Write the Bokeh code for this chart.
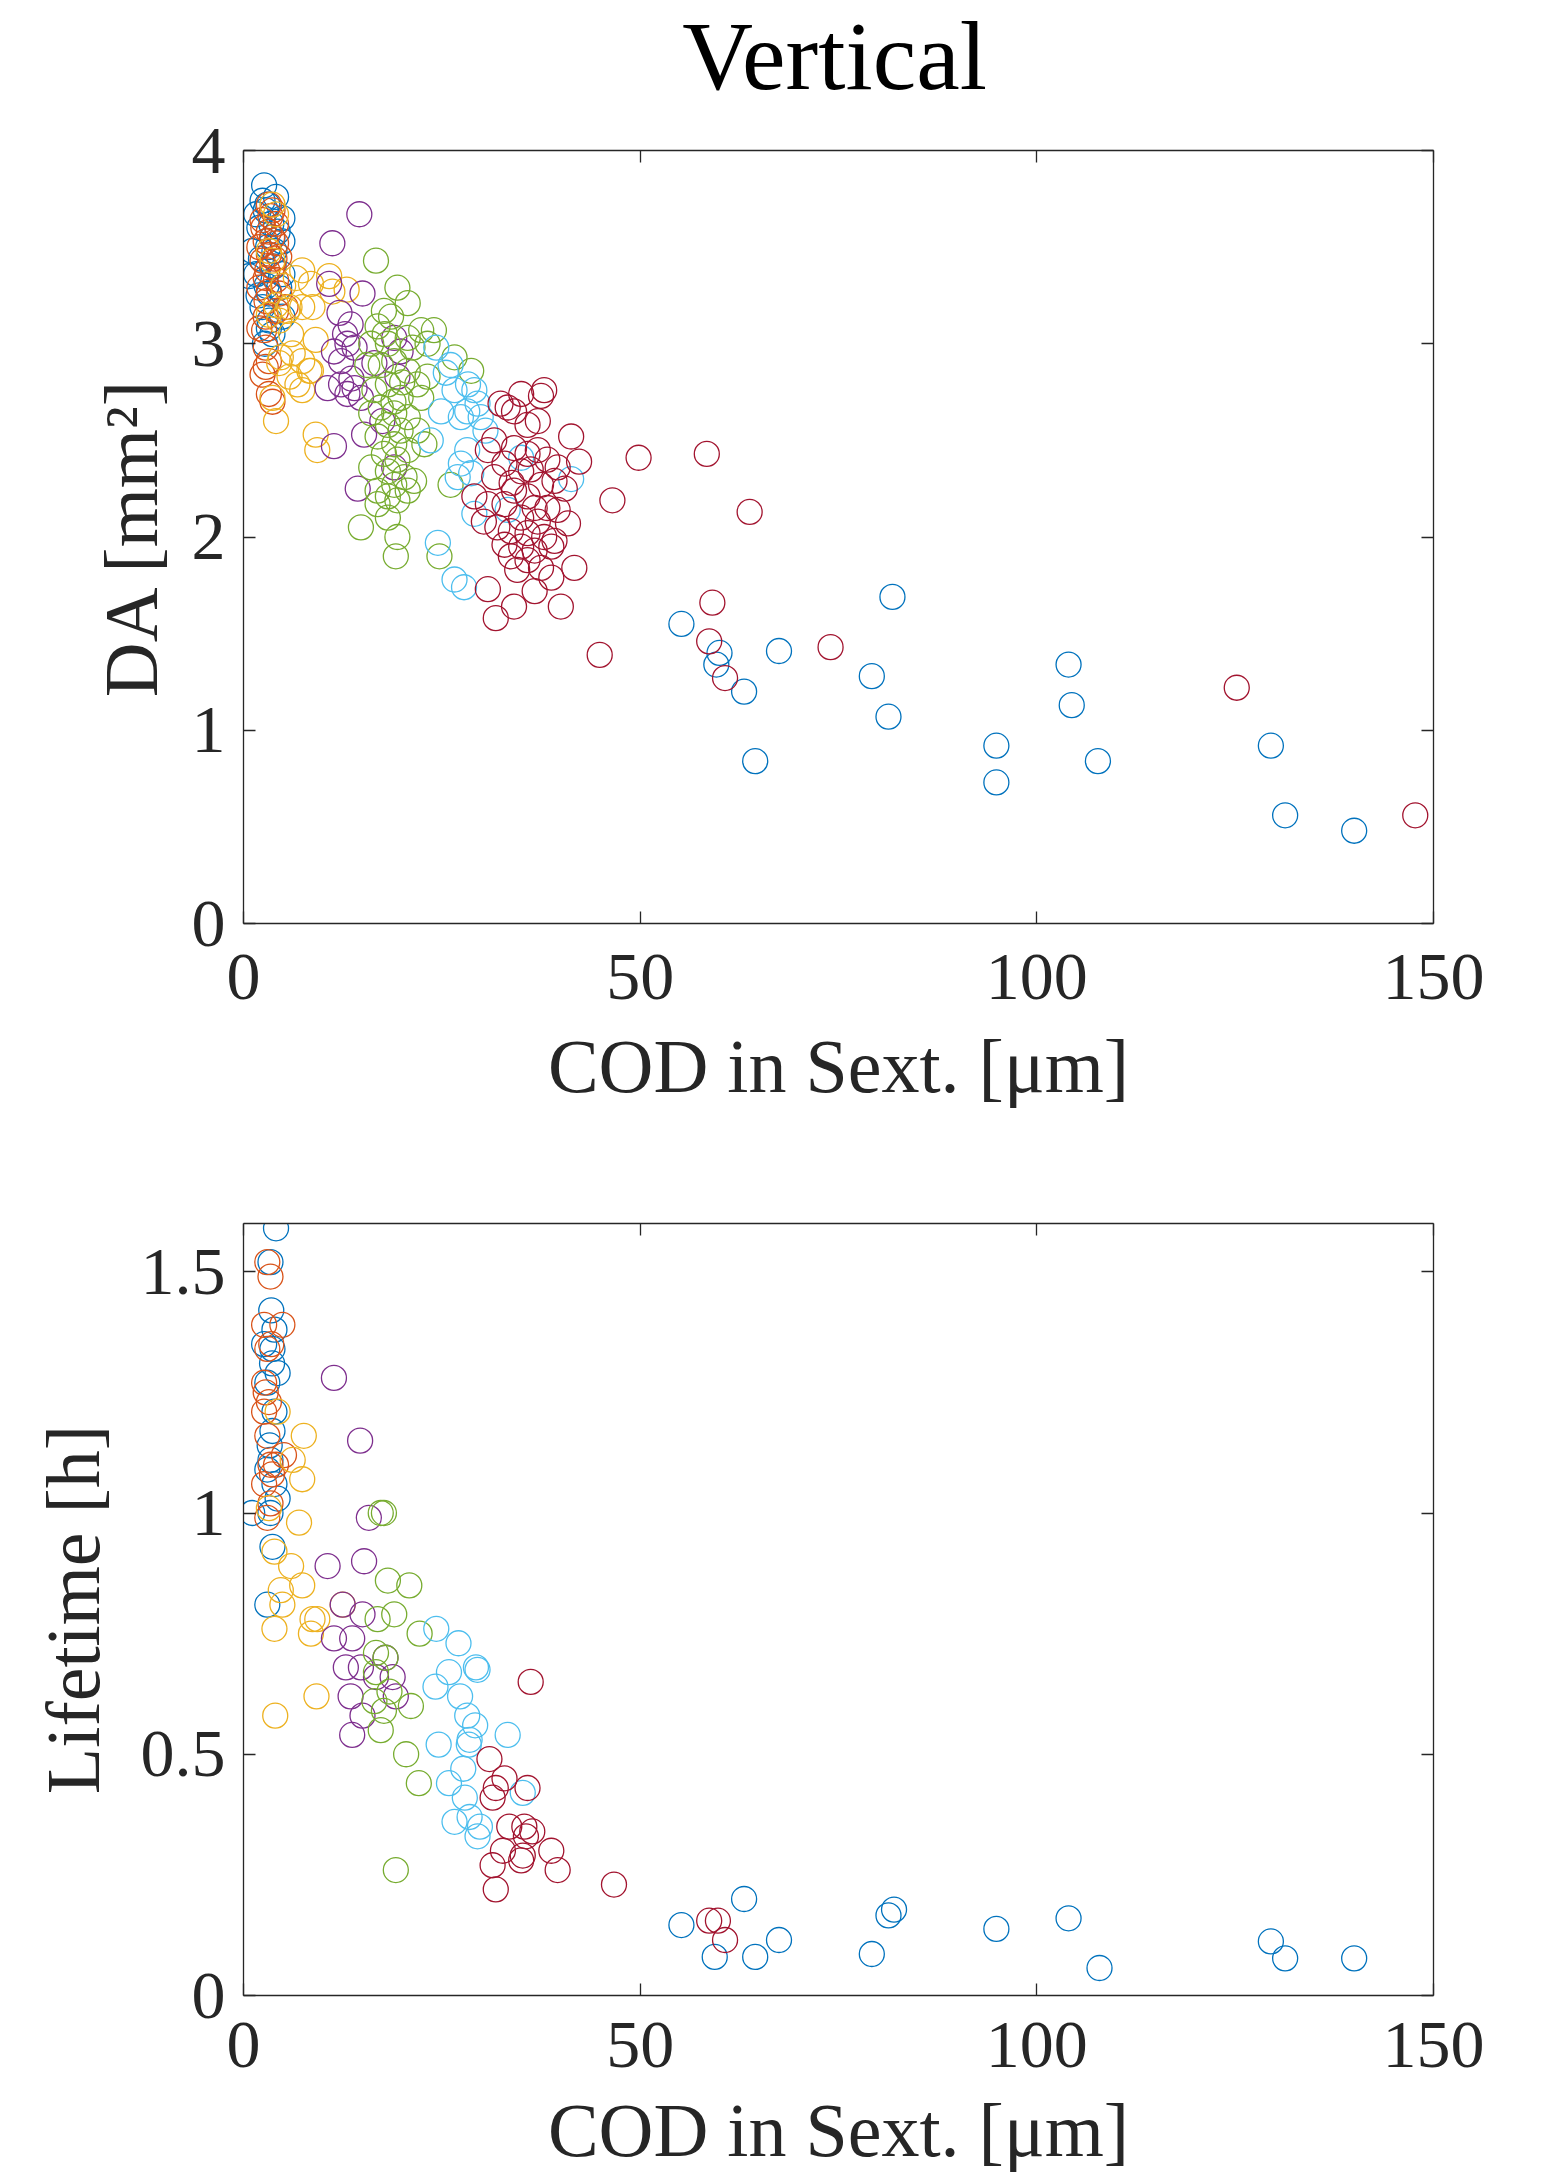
from bokeh.plotting import figure
from bokeh.layouts import column
from bokeh.models import Range1d, LinearAxis, FixedTicker, CustomJSTickFormatter
from bokeh.core.properties import value
from bokeh.embed import file_html
from bokeh.resources import INLINE

# ---------------- data: top panel (COD [um], DA [mm^2]) ----------------
top_blue_cod = [2.6, 2.4, 4.1, 1.6, 4.9, 2.0, 4.9, 1.1, 1.6, 0.7, 4.9, 4.5, 2.4, 4.9, 3.2, 3.65, 3.2, 2.8, 3.65, 3.0,
                3.5, 2.2, 3.8, 2.9, 3.3, 2.7, 3.9, 1.9, 4.3, 3.1,
                55.2, 59.6, 60.0, 63.1, 64.5, 67.5, 79.2, 81.3, 81.8, 94.9, 94.9, 104.0, 104.4, 107.7, 129.5, 131.3, 140.0]
top_blue_da = [3.82, 3.74, 3.76, 3.67, 3.65, 3.60, 3.53, 3.48, 3.36, 3.35, 3.36, 3.29, 3.19, 3.14, 3.08, 3.05, 3.26, 3.69, 3.55, 3.72,
               3.62, 3.44, 3.40, 3.30, 3.12, 3.00, 3.48, 3.25, 3.58, 3.50,
               1.55, 1.34, 1.40, 1.20, 0.84, 1.41, 1.28, 1.07, 1.69, 0.92, 0.73, 1.34, 1.13, 0.84, 0.92, 0.56, 0.48]

top_orange_cod = [3.2, 3.65, 2.4, 4.1, 3.2, 2.8, 4.1, 2.0, 3.2, 4.5, 2.4, 3.65, 2.8, 4.1, 2.0, 3.2, 4.5, 5.3, 4.1, 2.8,
                  2.0, 2.8, 3.2, 2.4, 3.2, 3.65, 2.6, 2.8, 3.0, 3.6, 2.5, 3.9, 3.4, 2.9]
top_orange_da = [3.72, 3.69, 3.64, 3.62, 3.58, 3.53, 3.52, 3.50, 3.46, 3.45, 3.43, 3.40, 3.34, 3.33, 3.29, 3.27, 3.26, 3.19, 3.17, 3.14,
                 3.08, 2.98, 2.91, 2.84, 2.74, 2.70, 3.07, 2.88, 3.38, 3.55, 3.60, 3.44, 3.66, 3.22]

top_yellow_cod = [3.65, 4.1, 3.2, 3.65, 4.1, 3.2, 7.4, 6.6, 10.8, 11.2, 8.7, 7.4, 5.8, 4.5, 9.1, 6.2, 7.4, 8.3, 4.5, 5.8,
                  7.4, 3.65, 4.1, 9.1, 9.3, 8.5, 5.5, 4.7, 8.5, 6.8, 13.0, 6.0, 5.0]
top_yellow_da = [3.72, 3.67, 3.48, 3.43, 3.20, 3.15, 3.38, 3.34, 3.35, 3.27, 3.19, 3.19, 3.19, 3.12, 3.02, 2.95, 2.91, 2.86, 2.90, 2.83,
                 2.76, 2.72, 2.60, 2.53, 2.45, 3.31, 3.17, 2.93, 2.86, 2.79, 3.28, 3.05, 3.30]

top_purple_cod = [14.6, 11.2, 10.8, 15.0, 12.1, 13.5, 11.4, 13.1, 14.0, 12.3, 10.6, 12.3, 14.0, 13.1, 14.8, 19.0, 19.8, 19.4, 15.2, 11.4,
                  14.4, 19.0, 12.8, 13.6, 16.5, 17.5]
top_purple_da = [3.67, 3.52, 3.31, 3.26, 3.16, 3.10, 2.96, 3.00, 2.98, 2.91, 2.77, 2.79, 2.77, 2.74, 2.72, 3.03, 2.96, 2.83, 2.53, 2.47,
                 2.25, 2.36, 3.05, 2.82, 2.90, 2.60]

top_green_cod = [16.7, 19.4, 20.7, 17.7, 16.9, 18.6, 22.4, 23.2, 20.7, 18.2, 16.1, 15.6, 17.3, 19.0, 20.7, 21.9, 23.2, 18.2, 16.5, 19.8,
                 22.4, 17.3, 19.0, 20.7, 16.1, 18.2, 19.8, 21.9, 16.9, 19.0, 20.7, 22.8, 17.7, 19.4, 16.1, 18.2, 20.3, 21.5, 19.0, 16.9,
                 20.7, 18.2, 16.9, 19.4, 14.8, 18.2, 19.4, 19.2, 26.1, 28.7, 26.6, 24.0, 24.7, 21.3, 17.8, 18.9, 20.0]
top_green_da = [3.43, 3.29, 3.21, 3.17, 3.09, 3.14, 3.07, 3.00, 3.03, 3.00, 3.00, 2.89, 2.89, 2.91, 2.86, 2.79, 2.83, 2.79, 2.76, 2.72,
                2.72, 2.67, 2.64, 2.62, 2.64, 2.58, 2.55, 2.55, 2.52, 2.48, 2.45, 2.48, 2.43, 2.40, 2.36, 2.34, 2.31, 2.29, 2.27, 2.24,
                2.24, 2.21, 2.17, 2.19, 2.05, 2.10, 2.00, 1.90, 2.27, 2.86, 2.93, 3.07, 1.90, 2.98, 3.05, 2.70, 2.80]

top_lblue_cod = [24.3, 26.1, 28.3, 29.1, 26.6, 29.5, 28.2, 24.9, 27.4, 29.9, 23.6, 28.2, 27.4, 27.0, 28.7, 41.3, 29.1, 33.3, 35.0, 24.5,
                 26.6, 27.8, 30.5, 25.5]
top_lblue_da = [2.98, 2.89, 2.79, 2.76, 2.76, 2.69, 2.65, 2.65, 2.62, 2.62, 2.50, 2.45, 2.38, 2.31, 2.33, 2.30, 2.12, 2.14, 2.41, 1.97,
                1.78, 1.74, 2.55, 2.85]

top_red_cod = [32.4, 35.0, 37.9, 37.5, 34.1, 35.8, 33.3, 37.1, 41.3, 42.3, 31.6, 30.8, 34.1, 35.8, 37.1, 38.3, 39.6, 32.9, 35.0, 31.6,
               37.5, 39.2, 40.5, 34.1, 35.8, 29.1, 30.8, 32.9, 36.7, 38.3, 39.6, 35.0, 37.1, 40.9, 30.3, 32.0, 33.7, 35.8, 37.9, 39.2,
               32.9, 35.0, 36.7, 38.8, 33.7, 35.8, 41.7, 34.5, 37.5, 38.8, 36.7, 30.8, 34.1, 40.0, 31.8, 36.2, 33.8,
               44.9, 46.5, 49.8, 58.4, 59.1, 58.7, 60.7, 63.8, 74.0, 125.2, 147.7]
top_red_da = [2.69, 2.74, 2.76, 2.73, 2.65, 2.58, 2.67, 2.60, 2.52, 2.39, 2.50, 2.45, 2.46, 2.43, 2.45, 2.40, 2.36, 2.38, 2.34, 2.31,
              2.27, 2.29, 2.25, 2.24, 2.21, 2.21, 2.17, 2.17, 2.15, 2.15, 2.14, 2.10, 2.08, 2.07, 2.08, 2.05, 2.03, 2.02, 2.00, 1.98,
              1.96, 1.95, 1.93, 1.95, 1.90, 1.88, 1.84, 1.83, 1.84, 1.79, 1.72, 1.73, 1.64, 1.64, 1.58, 2.35, 2.28,
              1.39, 2.19, 2.41, 2.43, 1.66, 1.46, 1.27, 2.13, 1.43, 1.22, 0.56]

# ---------------- data: bottom panel (COD [um], Lifetime [h]) ----------------
bot_blue_cod = [4.1, 3.4, 3.5, 3.9, 3.65, 2.6, 4.3, 3.0, 3.9, 3.65, 3.4, 3.0, 3.9, 4.3, 1.1, 3.4, 3.65, 3.0, 3.6, 3.3,
                55.2, 59.4, 63.1, 64.5, 67.5, 79.2, 81.3, 82.0, 94.9, 104.0, 107.9, 129.5, 131.3, 140.0]
bot_blue_lt = [1.59, 1.52, 1.42, 1.38, 1.34, 1.35, 1.29, 1.27, 1.21, 1.17, 1.11, 1.09, 1.06, 1.03, 1.00, 1.00, 0.93, 0.81, 1.31, 1.14,
               0.146, 0.08, 0.20, 0.08, 0.115, 0.086, 0.166, 0.178, 0.138, 0.16, 0.057, 0.112, 0.077, 0.077]

bot_orange_cod = [3.0, 3.4, 4.9, 2.6, 3.0, 2.6, 2.8, 2.6, 3.0, 3.4, 4.1, 5.1, 2.6, 3.0, 3.4, 3.5, 3.2, 3.6]
bot_orange_lt = [1.52, 1.49, 1.39, 1.39, 1.34, 1.27, 1.25, 1.21, 1.16, 1.10, 1.10, 1.12, 1.06, 0.99, 1.02, 1.35, 1.23, 1.08]

bot_yellow_cod = [4.3, 7.6, 6.2, 7.4, 3.2, 7.0, 3.9, 6.0, 7.4, 4.7, 4.9, 8.7, 9.3, 8.5, 3.9, 12.5, 9.2, 4.0]
bot_yellow_lt = [1.21, 1.16, 1.11, 1.07, 1.01, 0.98, 0.92, 0.89, 0.85, 0.84, 0.81, 0.78, 0.78, 0.75, 0.76, 0.81, 0.62, 0.58]

bot_purple_cod = [11.4, 14.7, 15.8, 10.6, 15.2, 12.5, 15.0, 11.4, 13.7, 12.9, 14.8, 18.8, 17.9, 13.5, 19.2, 15.0, 13.7, 16.7]
bot_purple_lt = [1.28, 1.15, 0.99, 0.89, 0.90, 0.81, 0.79, 0.74, 0.74, 0.68, 0.68, 0.66, 0.70, 0.62, 0.62, 0.58, 0.54, 0.66]

bot_green_cod = [17.7, 17.3, 18.2, 20.9, 16.9, 19.0, 22.2, 16.7, 17.9, 16.7, 18.4, 21.1, 16.5, 17.7, 17.3, 20.5, 22.1, 19.2]
bot_green_lt = [1.00, 1.00, 0.86, 0.85, 0.78, 0.79, 0.75, 0.71, 0.70, 0.67, 0.63, 0.60, 0.61, 0.59, 0.55, 0.50, 0.44, 0.26]

bot_lblue_cod = [24.3, 27.1, 29.3, 29.5, 25.9, 24.2, 27.3, 28.2, 29.2, 33.3, 24.6, 28.5, 28.4, 27.7, 25.9, 27.9, 35.2, 26.6, 28.5, 29.8,
                 29.5]
bot_lblue_lt = [0.76, 0.73, 0.68, 0.675, 0.67, 0.64, 0.62, 0.58, 0.56, 0.54, 0.52, 0.53, 0.52, 0.47, 0.44, 0.41, 0.42, 0.36, 0.37, 0.35,
                0.33]

bot_red_cod = [36.2, 31.0, 32.9, 35.8, 31.4, 31.8, 33.5, 35.4, 36.4, 35.6, 38.8, 35.2, 32.7, 31.4, 35.0, 39.6, 31.8, 46.7, 58.7, 59.8,
               60.7]
bot_red_lt = [0.65, 0.49, 0.45, 0.43, 0.41, 0.43, 0.35, 0.35, 0.34, 0.33, 0.30, 0.29, 0.30, 0.27, 0.28, 0.26, 0.22, 0.23, 0.155, 0.155,
              0.115]

x_ticks = [0, 50, 100, 150]
x_tick_labels = ["0", "50", "100", "150"]
top_y_ticks = [0, 1, 2, 3, 4]
top_y_tick_labels = ["0", "1", "2", "3", "4"]
bot_y_ticks = [0, 0.5, 1, 1.5]
bot_y_tick_labels = ["0", "0.5", "1", "1.5"]

title_text = "Vertical"
x_label = "COD in Sext. [\u03bcm]"
top_y_label = "DA [mm\u00b2]"
bot_y_label = "Lifetime [h]"

colors = ["#0072BD", "#D95319", "#EDB120", "#7E2F8E", "#77AC30", "#4DBEEE", "#A2142F"]

FONT = "Liberation Serif"
AX = "#262626"
TICK_FS = "68px"
LABEL_FS = "76px"


def style_axis(ax, ticks, labels, show_labels=True):
    ax.ticker = FixedTicker(ticks=ticks)
    ax.axis_line_color = AX
    ax.axis_line_width = 1.3
    ax.major_tick_line_color = AX
    ax.major_tick_line_width = 1.3
    ax.major_tick_in = 12
    ax.major_tick_out = 0
    ax.minor_tick_line_color = None
    ax.major_label_text_font = FONT
    ax.major_label_text_color = AX
    if show_labels:
        ax.major_label_overrides = {float(t): l for t, l in zip(ticks, labels)}
        ax.major_label_text_font_size = TICK_FS
        ax.major_label_standoff = 18
    else:
        ax.formatter = CustomJSTickFormatter(code="return ''")
        ax.major_label_text_font_size = "1px"
        ax.major_label_standoff = 0
    ax.axis_label_text_font = FONT
    ax.axis_label_text_font_style = "normal"
    ax.axis_label_text_font_size = LABEL_FS
    ax.axis_label_text_color = AX


def make_fig(height, ymax, yticks, ylabels, ylabel, border_top, border_bottom, ylabel_standoff, xtick_sd, xlabel_sd):
    p = figure(width=1542, height=height, output_backend="svg", toolbar_location=None,
               x_range=Range1d(0, 150), y_range=Range1d(0, ymax),
               min_border_left=243, min_border_right=109,
               min_border_top=border_top, min_border_bottom=border_bottom)
    p.outline_line_color = None
    p.xgrid.visible = False
    p.ygrid.visible = False
    p.background_fill_color = "white"
    p.border_fill_color = "white"
    style_axis(p.xaxis[0], x_ticks, x_tick_labels)
    style_axis(p.yaxis[0], yticks, ylabels)
    p.xaxis[0].major_label_standoff = xtick_sd
    p.xaxis[0].axis_label = x_label
    p.xaxis[0].axis_label_standoff = xlabel_sd
    p.yaxis[0].axis_label = ylabel
    p.yaxis[0].axis_label_standoff = ylabel_standoff
    top_ax = LinearAxis()
    style_axis(top_ax, x_ticks, x_tick_labels, show_labels=False)
    p.add_layout(top_ax, "above")
    right_ax = LinearAxis()
    style_axis(right_ax, yticks, ylabels, show_labels=False)
    p.add_layout(right_ax, "right")
    return p


def add_series(p, series):
    for (xs, ys), c in zip(series, colors):
        p.scatter(xs, ys, marker="circle", size=25, fill_color=None, line_color=c, line_width=1.3)


# title strip: same horizontal frame as the plots, 1 data unit = 1 px vertically
TITLE_H = 111
p0 = figure(width=1542, height=TITLE_H, output_backend="svg", toolbar_location=None,
            x_range=Range1d(0, 150), y_range=Range1d(0, TITLE_H),
            min_border_left=243, min_border_right=109, min_border_top=0, min_border_bottom=0,
            x_axis_location=None, y_axis_location=None)
p0.outline_line_color = None
p0.xgrid.visible = False
p0.ygrid.visible = False
p0.text(x=[74.5], y=[TITLE_H - 55], text=[title_text], text_align="center", text_baseline="alphabetic",
        text_font=value(FONT), text_font_size="98px", text_color="black")

p1 = make_fig(1190 - TITLE_H, 4, top_y_ticks, top_y_tick_labels, top_y_label, 150 - TITLE_H, 267, 16, 31, 22)
add_series(p1, [(top_blue_cod, top_blue_da), (top_orange_cod, top_orange_da), (top_yellow_cod, top_yellow_da),
                (top_purple_cod, top_purple_da), (top_green_cod, top_green_da), (top_lblue_cod, top_lblue_da),
                (top_red_cod, top_red_da)])

p2 = make_fig(989, 1.6, bot_y_ticks, bot_y_tick_labels, bot_y_label, 33, 184, 23, 27, 18)
add_series(p2, [(bot_blue_cod, bot_blue_lt), (bot_orange_cod, bot_orange_lt), (bot_yellow_cod, bot_yellow_lt),
                (bot_purple_cod, bot_purple_lt), (bot_green_cod, bot_green_lt), (bot_lblue_cod, bot_lblue_lt),
                (bot_red_cod, bot_red_lt)])

layout = column(p0, p1, p2, spacing=0)
open("out.html", "w").write(file_html(layout, INLINE))
